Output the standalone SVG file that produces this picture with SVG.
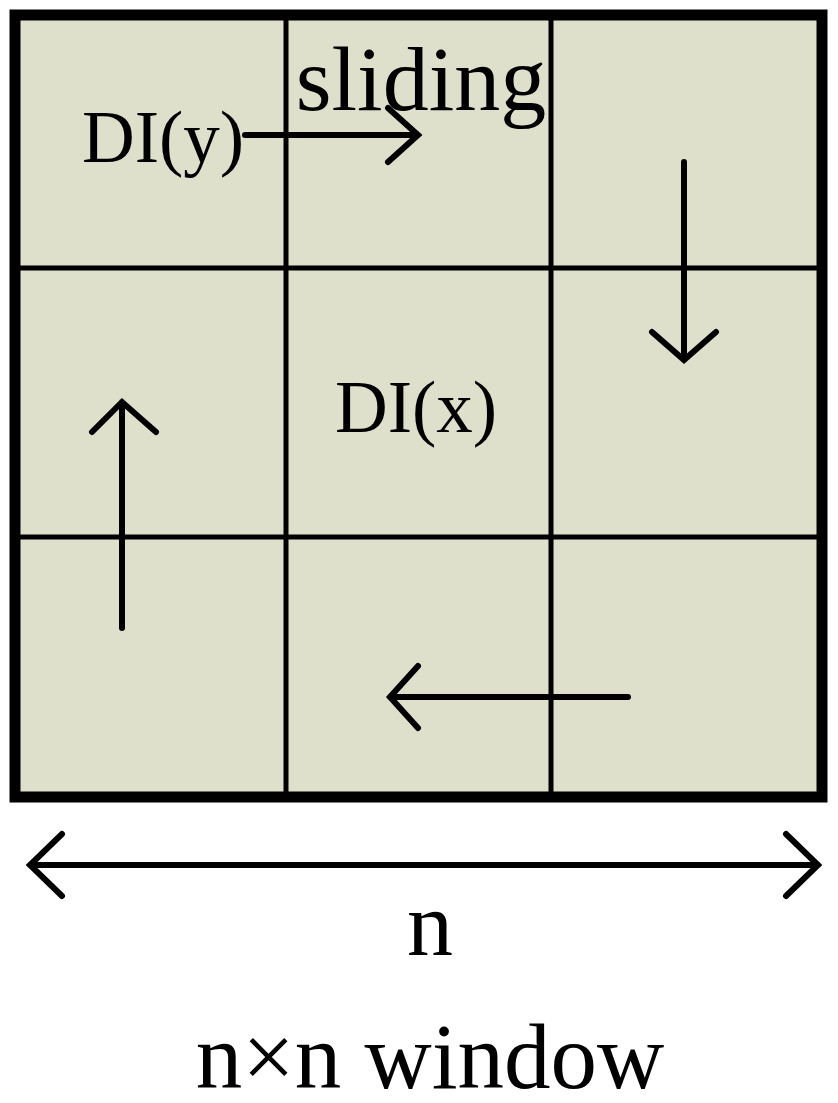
<svg xmlns="http://www.w3.org/2000/svg" width="838" height="1103" viewBox="0 0 838 1103">
<style>
.g{stroke:#000;stroke-width:5;fill:none}
.a{stroke:#000;stroke-width:6;fill:none;stroke-linecap:round;stroke-linejoin:miter}
text{font-family:"Liberation Serif",serif;fill:#000}
</style>
<rect width="838" height="1103" fill="#fff"/>
<g id="grid">
<rect x="15" y="15" width="807" height="782" fill="#DEE0CB" stroke="#000" stroke-width="11"/>
<line class="g" x1="286" y1="15" x2="286" y2="797"/>
<line class="g" x1="551" y1="15" x2="551" y2="797"/>
<line class="g" x1="15" y1="268" x2="822" y2="268"/>
<line class="g" x1="15" y1="537" x2="822" y2="537"/>
</g>
<g id="labels">
<text x="421" y="110" font-size="92" text-anchor="middle">sliding</text>
<text x="82" y="162" font-size="73">DI(y)</text>
<text x="416" y="432" font-size="73" text-anchor="middle">DI(x)</text>
<text x="430" y="955" font-size="92" text-anchor="middle">n</text>
<text x="430" y="1088" font-size="93" text-anchor="middle">n×n window</text>
</g>
<g id="connectors">
<path class="a" d="M245 135H418M388 108L418 135L388 162"/>
<path class="a" d="M684 162V360M652 332L684 360L716 332"/>
<path class="a" d="M122 628V402M92 432L122 402L156 432"/>
<path class="a" d="M628 697H390M418 666L390 697L418 728"/>
<path class="a" d="M30 865H818M62 834L30 865L62 896M786 834L818 865L786 896"/>
</g>
</svg>
